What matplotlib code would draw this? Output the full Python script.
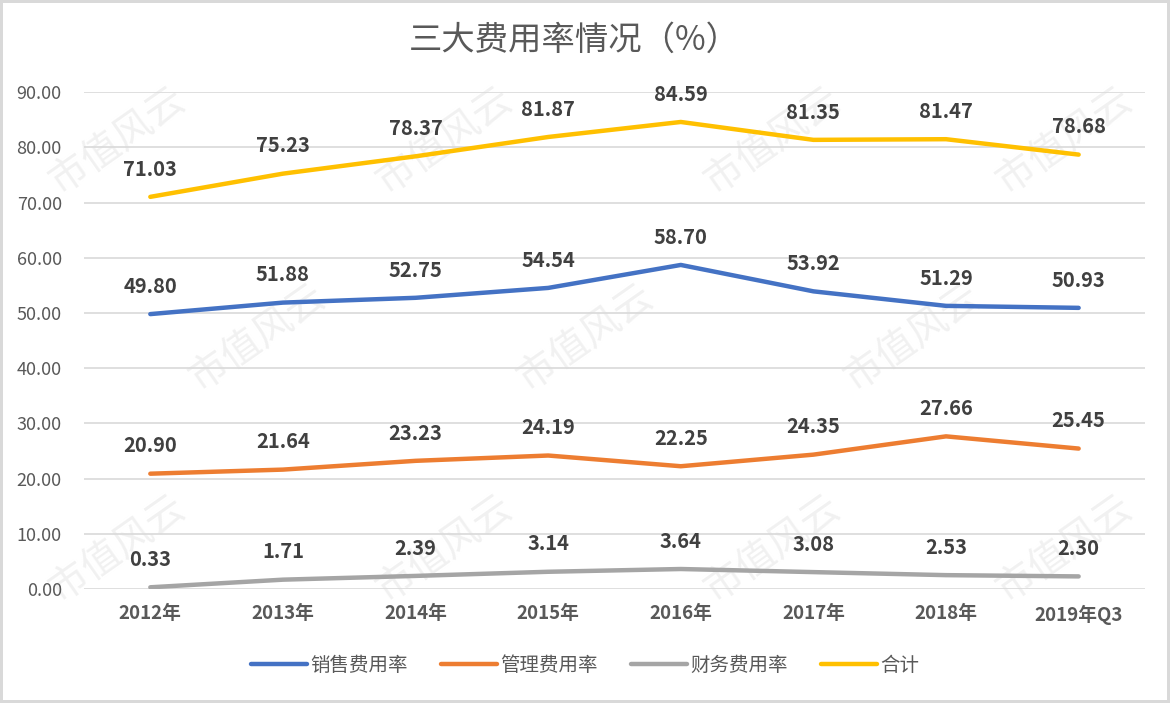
import matplotlib.pyplot as plt
import numpy as np

plt.rcParams['font.family'] = ['Noto Sans CJK SC', 'DejaVu Sans']

years = ['2012年', '2013年', '2014年', '2015年', '2016年', '2017年', '2018年', '2019年Q3']
sales = [49.80, 51.88, 52.75, 54.54, 58.70, 53.92, 51.29, 50.93]
admin = [20.90, 21.64, 23.23, 24.19, 22.25, 24.35, 27.66, 25.45]
finance = [0.33, 1.71, 2.39, 3.14, 3.64, 3.08, 2.53, 2.30]
total = [71.03, 75.23, 78.37, 81.87, 84.59, 81.35, 81.47, 78.68]

names = ['销售费用率', '管理费用率', '财务费用率', '合计']
colors = ['#4472C4', '#ED7D31', '#A5A5A5', '#FFC000']

fig = plt.figure(figsize=(11.7, 7.03), dpi=100)
fig.patch.set_edgecolor('#d9d9d9')
fig.patch.set_linewidth(3)

# watermark on a background axes
bg = fig.add_axes([0, 0, 1, 1], zorder=0)
bg.axis('off')
wm_x = [0.10, 0.38, 0.66, 0.91, 0.22, 0.50, 0.78, 0.10, 0.38, 0.66, 0.91]
wm_y = [0.80, 0.80, 0.80, 0.80, 0.52, 0.52, 0.52, 0.22, 0.22, 0.22, 0.22]
for wx, wy in zip(wm_x, wm_y):
    bg.text(wx, wy, '市值风云', fontsize=28, color='#f1f1f1', rotation=35,
            ha='center', va='center', transform=bg.transAxes)

ax = fig.add_axes([0.0718, 0.162, 0.9068, 0.707], zorder=1)

x = np.arange(len(years))
for vals, c, n in zip([sales, admin, finance, total], colors, names):
    ax.plot(x, vals, color=c, lw=3.2, solid_capstyle='round', label=n, zorder=3)
    for xi, v in zip(x, vals):
        ax.annotate(f'{v:.2f}', (xi, v), xytext=(0, 20), textcoords='offset points',
                    ha='center', va='center', fontsize=14.5, fontweight='bold',
                    color='#404040', zorder=4)

ax.set_xlim(-0.5, len(years) - 0.5)
ax.set_ylim(0, 90)
ax.set_yticks(np.arange(0, 91, 10))
ax.set_yticklabels([f'{v:.2f}' for v in np.arange(0, 91, 10)], fontsize=13, color='#595959')
ax.set_xticks(x)
ax.set_xticklabels(years, fontsize=13.5, fontweight='bold', color='#595959')
ax.tick_params(length=0, axis='x', pad=11)
ax.tick_params(length=0, axis='y', pad=16)
ax.grid(axis='y', color='#d9d9d9', lw=1.2)
ax.set_axisbelow(True)
for s in ax.spines.values():
    s.set_visible(False)
ax.patch.set_alpha(0)

fig.text(0.491, 0.943, '三大费用率情况（%）', fontsize=24, color='#595959',
         ha='center', va='center')

fig.legend(loc='center', bbox_to_anchor=(0.5, 0.054), ncol=4, frameon=False,
           fontsize=14, labelcolor='#595959', handlelength=2.9, handletextpad=0.15,
           columnspacing=1.7)

fig.savefig('out.png', dpi=100)
